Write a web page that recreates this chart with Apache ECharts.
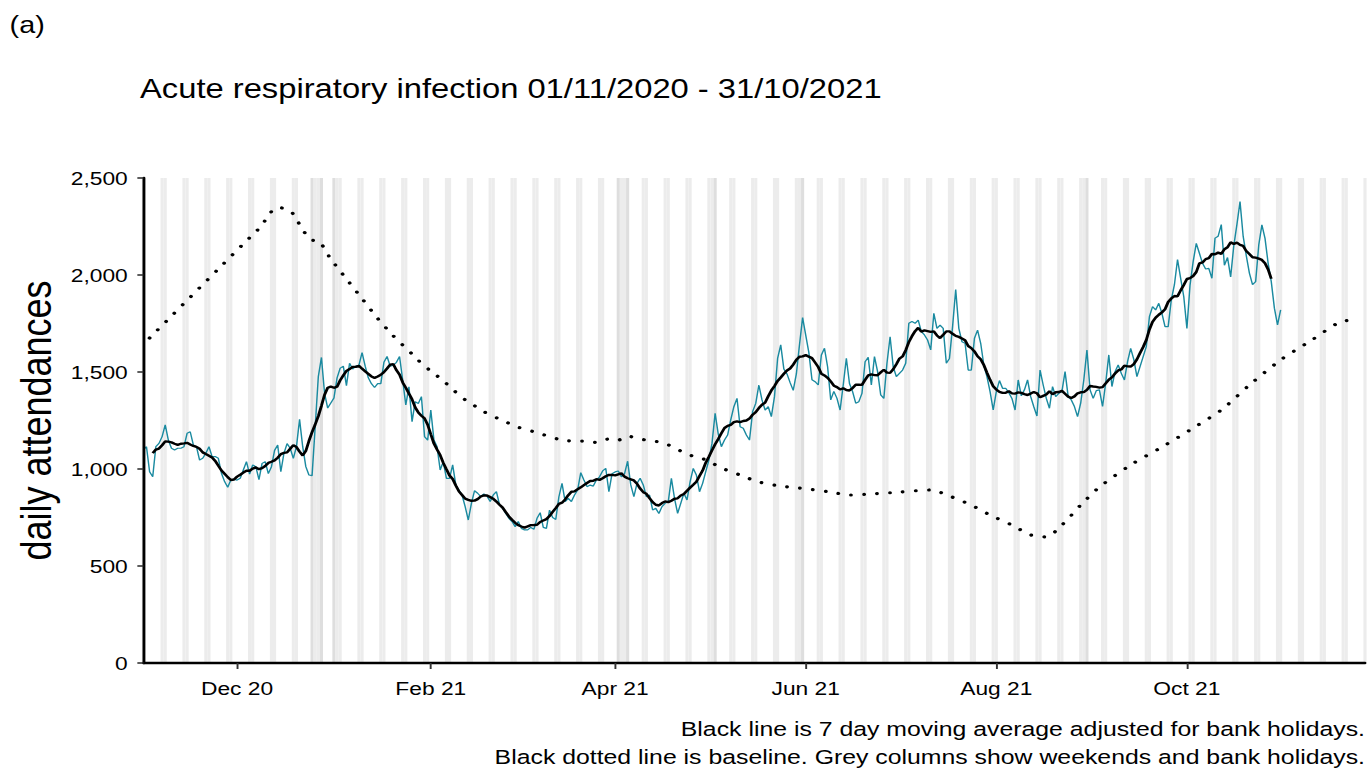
<!DOCTYPE html>
<html>
<head>
<meta charset="utf-8">
<script src="https://cdn.jsdelivr.net/npm/echarts@6/dist/echarts.min.js"></script>
<style>
html,body{margin:0;padding:0;background:#fff;overflow:hidden;width:1370px;height:771px;}
#c{width:1142px;height:771px;transform:scale(1.19965,1);transform-origin:0 0;}
</style>
</head>
<body>
<div id="c"></div>
<script>
// ---- data ----
const START_DATE = '2020-11-01';
const AXIS_DAYS = 392; // axis runs to late Nov 2021
const DAILY = [
1098,1115,986,960,1115,1132,1167,1227,1149,1107,
1098,1107,1107,1115,1184,1192,1124,1115,1046,1055,
1081,1115,1064,1064,1055,978,935,906,943,947,
943,952,995,1038,974,1021,1012,945,1029,1038,
976,1012,1096,1124,986,1081,1131,1107,1055,1115,
1256,1115,1012,969,966,1218,1476,1575,1390,1314,
1340,1366,1470,1520,1530,1430,1545,1515,1530,1535,
1600,1530,1470,1440,1420,1440,1440,1550,1580,1530,
1535,1550,1580,1459,1330,1424,1244,1347,1338,1373,
1167,1149,1304,1149,1115,995,1038,952,952,1021,
918,892,866,806,737,823,888,875,858,871,
860,832,866,883,815,797,771,746,729,703,
729,694,686,686,699,689,746,775,699,694,
788,750,740,857,926,832,849,832,866,892,
981,943,909,917,912,943,960,990,1003,883,
975,985,990,960,975,1040,918,857,926,952,
918,857,866,789,797,771,806,823,832,952,
849,771,823,875,840,935,1003,969,883,926,
986,1046,1132,1287,1180,1115,1149,1175,1253,1321,
1364,1218,1210,1175,1149,1296,1338,1433,1356,1304,
1321,1270,1373,1570,1640,1515,1490,1445,1405,1490,
1640,1780,1690,1600,1460,1450,1433,1588,1622,1527,
1356,1400,1364,1304,1433,1571,1441,1399,1339,1347,
1390,1553,1576,1433,1579,1502,1382,1364,1545,1682,
1527,1476,1493,1510,1545,1751,1760,1751,1768,1708,
1691,1665,1614,1802,1725,1742,1725,1545,1570,1734,
1925,1725,1656,1648,1510,1510,1674,1716,1648,1536,
1476,1399,1304,1399,1456,1416,1416,1393,1364,1304,
1459,1377,1408,1459,1373,1321,1273,1510,1433,1364,
1313,1425,1373,1390,1400,1502,1373,1356,1322,1270,
1339,1459,1613,1408,1364,1404,1408,1322,1442,1588,
1425,1502,1536,1493,1459,1553,1622,1565,1476,1528,
1579,1631,1785,1837,1820,1854,1802,1734,1734,1871,
1950,2080,1983,1888,1725,1948,2069,2163,2112,2060,
2031,2034,1983,2190,2200,2260,2050,2090,1990,2150,
2260,2378,2200,2100,2010,1950,1966,2155,2258,2189,
2060,1966,1829,1743,1820
];
// baseline (dotted) : day index from 01/11/2020 and value
const BASE_DAYS = [2,29,32,35,38,40,43,47,49,51,54,56,60,65,70,75,80,83,86,89,92,96,99,102,106,109,115,120,125,129,133,137,141,145,149,152,155,158,162,166,170,173,177,181,184,191,197,204,210,220,226,233,242,252,258,265,271,278,284,289,294,300,306,316,326,335,345,354,364,374,383,388];
const BASE_VALS = [1675,2112,2160,2208,2256,2309,2349,2330,2289,2232,2180,2177,2082,1980,1878,1776,1686,1639,1593,1545,1505,1455,1411,1368,1326,1295,1250,1215,1192,1172,1153,1144,1144,1137,1155,1149,1170,1158,1146,1137,1110,1084,1060,1043,1012,969,933,912,902,881,866,871,881,892,861,814,763,711,660,650,711,814,907,1021,1113,1201,1304,1433,1562,1665,1758,1768];
const BANK_HOLIDAYS = ['2020-12-25','2020-12-28','2021-01-01','2021-04-02','2021-04-05','2021-05-03','2021-05-31','2021-08-30'];
const TICK_DATES = ['2020-12-01','2021-02-01','2021-04-01','2021-06-01','2021-08-01','2021-10-01'];
const TICK_LABELS = ['Dec 20','Feb 21','Apr 21','Jun 21','Aug 21','Oct 21'];
const Y_MAX = 2500, Y_STEP = 500;
const TITLE = 'Acute respiratory infection 01/11/2020 - 31/10/2021';
const PANEL = '(a)';
const Y_NAME = 'daily attendances';
const CAPTION1 = 'Black line is 7 day moving average adjusted for bank holidays.';
const CAPTION2 = 'Black dotted line is baseline. Grey columns show weekends and bank holidays.';

// ---- build ----
const start = Date.UTC(2020,10,1);
const cats = [], dows = [];
for (let i=0;i<AXIS_DAYS;i++){
  const dt = new Date(start + i*86400000);
  cats.push(dt.toISOString().slice(0,10));
  dows.push(dt.getUTCDay());
}
const hol = new Set(BANK_HOLIDAYS);
const cols = cats.map((c,i)=>{
  if (hol.has(c)) return {value:Y_MAX,itemStyle:{color:'#dedede'}};
  if (dows[i]===0||dows[i]===6) return {value:Y_MAX,itemStyle:{color:'#ececec'}};
  return '-';
});
const ma = DAILY.map((v,i)=>{
  if (i<3||i>DAILY.length-4) return '-';
  let s=0; for(let k=-3;k<=3;k++) s+=DAILY[i+k];
  return +(s/7).toFixed(1);
});
const tickIdx = new Map(TICK_DATES.map((d,i)=>[d,TICK_LABELS[i]]));
const FONT = "'Liberation Sans', Arial, sans-serif";
const S = 1370/1142;

const chart = echarts.init(document.getElementById('c'), null, {renderer:'svg'});
chart.setOption({
  animation:false,
  backgroundColor:'#fff',
  grid:{left:143.35/S, right:1142-1365/S, top:178, bottom:108, containLabel:false},
  xAxis:{
    type:'category', data:cats, boundaryGap:false, z:10,
    axisLine:{lineStyle:{color:'#000',width:2.4}},
    axisTick:{interval:(i,v)=>tickIdx.has(v), length:6, lineStyle:{color:'#333',width:1.6}},
    axisLabel:{interval:(i,v)=>tickIdx.has(v), formatter:v=>tickIdx.get(v)||'', color:'#000', fontSize:19, fontFamily:FONT, margin:16},
    splitLine:{show:false}
  },
  yAxis:{
    type:'value', min:0, max:Y_MAX, interval:Y_STEP, z:10,
    name:Y_NAME, nameLocation:'middle', nameRotate:90, nameGap:64,
    nameTextStyle:{fontSize:36, color:'#000', fontFamily:FONT},
    axisLine:{show:true, lineStyle:{color:'#000',width:2.4}},
    axisTick:{show:true, length:5, lineStyle:{color:'#333',width:1.6}},
    axisLabel:{formatter:v=>v.toLocaleString('en-US'), color:'#000', fontSize:19, fontFamily:FONT, margin:13},
    splitLine:{show:false}
  },
  graphic:[
    {type:'text', x:8, y:25, style:{text:PANEL, fontSize:24, fontFamily:FONT, fill:'#000', textAlign:'left', textVerticalAlign:'middle'}},
    {type:'text', x:140/S, y:88, style:{text:TITLE, fontSize:27.3, fontFamily:FONT, fill:'#000', textAlign:'left', textVerticalAlign:'middle'}},
    {type:'text', x:1365/S, y:729, style:{text:CAPTION1, fontSize:20.7, fontFamily:FONT, fill:'#000', textAlign:'right', textVerticalAlign:'middle'}},
    {type:'text', x:1365/S, y:757, style:{text:CAPTION2, fontSize:20.7, fontFamily:FONT, fill:'#000', textAlign:'right', textVerticalAlign:'middle'}}
  ],
  series:[
    {type:'bar', data:cols, barWidth:'100%', barCategoryGap:'0%', silent:true, z:1, itemStyle:{color:'#ececec'}},
    {type:'line', data:DAILY, showSymbol:false, symbol:'none', z:3, lineStyle:{color:'#1a8aa0', width:1.2}},
    {type:'line', data:ma, showSymbol:false, symbol:'none', z:4, lineStyle:{color:'#000', width:2.4}},
    {type:'line', data:BASE_DAYS.map((d,i)=>[d,BASE_VALS[i]]), showSymbol:false, symbol:'none', z:5, smooth:0.25,
      lineStyle:{color:'#000', width:3.2, type:[0.01,10.8], cap:'round'}}
  ]
});
</script>
</body>
</html>
